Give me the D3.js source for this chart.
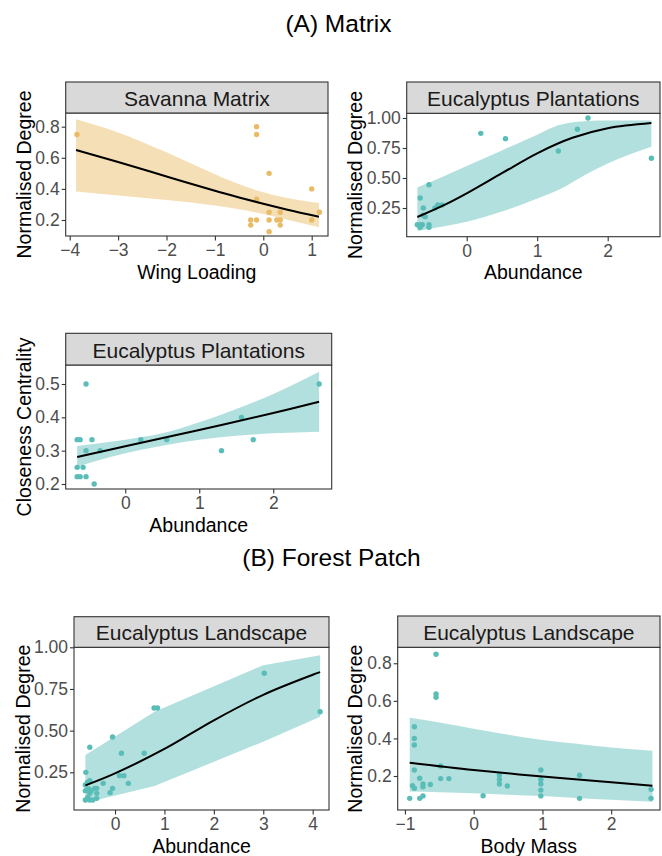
<!DOCTYPE html>
<html>
<head>
<meta charset="utf-8">
<script src="https://cdn.jsdelivr.net/npm/d3@7"></script>
<style>
  html, body { margin: 0; padding: 0; background: #ffffff; }
  svg { display: block; }
  text { font-family: "Liberation Sans", Arial, sans-serif; }
</style>
</head>
<body>
<svg id="fig" width="662" height="856"></svg>
<script>
// ---------- (A) Matrix: Savanna Matrix, degree vs wing loading ----------
const savWing   = [-3.85, -0.14, -0.14, 0.12, 1.00, -0.14, 1.16, 1.00, -0.26, -0.14, -0.26, 0.12, 0.12, 0.12, 0.28, 0.35, 0.35, 0.35];
const savDegree = [0.75, 0.80, 0.75, 0.50, 0.40, 0.333, 0.25, 0.20, 0.20, 0.20, 0.167, 0.25, 0.20, 0.125, 0.20, 0.25, 0.20, 0.167];
const savFitX   = [-3.87, -3, -2, -1, -0.5, 0, 0.5, 1.15];
const savFit    = [0.650, 0.573, 0.480, 0.388, 0.345, 0.304, 0.266, 0.221];
const savBandX  = [-3.87, -3, -2, -1, -0.5, 0, 0.5, 1.15];
const savLo     = [0.383, 0.358, 0.329, 0.293, 0.269, 0.239, 0.202, 0.153];
const savHi     = [0.848, 0.763, 0.635, 0.494, 0.430, 0.378, 0.341, 0.309];

// ---------- (A) Matrix: Eucalyptus Plantations, degree vs abundance ----------
const plAbund  = [0.20, 0.55, 1.30, 1.57, 1.72, 2.62, -0.535, -0.66, -0.615, -0.45, -0.41, -0.35, -0.59, -0.62, -0.70, -0.66, -0.63, -0.535, -0.66, -0.535];
const plDegree = [0.872, 0.828, 0.725, 0.906, 1.00, 0.664, 0.444, 0.333, 0.25, 0.25, 0.275, 0.275, 0.178, 0.19, 0.111, 0.111, 0.111, 0.111, 0.089, 0.089];
const plFitX   = [-0.70, -0.3, 0, 0.5, 1, 1.5, 2, 2.62];
const plFit    = [0.175, 0.28, 0.372, 0.54, 0.706, 0.835, 0.915, 0.958];
const plBandX  = [-0.70, -0.3, 0, 0.5, 1, 1.3, 1.72, 2.0, 2.62];
const plHi     = [0.42, 0.52, 0.60, 0.73, 0.86, 0.94, 0.975, 0.978, 0.98];
const plLo     = [0.058, 0.10, 0.136, 0.22, 0.33, 0.40, 0.54, 0.62, 0.76];

// ---------- (A) Matrix: Eucalyptus Plantations, closeness vs abundance ----------
const ccAbund = [-0.53, 2.62, 1.57, 1.30, 1.73, 0.56, 0.21, -0.65, -0.61, -0.45, -0.53, -0.34, -0.65, -0.57, -0.65, -0.61, -0.53, -0.42];
const ccValue = [0.50, 0.50, 0.40, 0.30, 0.333, 0.333, 0.333, 0.333, 0.333, 0.333, 0.30, 0.30, 0.25, 0.25, 0.222, 0.222, 0.222, 0.20];
const ccFitX  = [-0.65, 0, 1, 2, 2.62];
const ccFit   = [0.281, 0.313, 0.362, 0.413, 0.447];
const ccBandX = [-0.65, 0, 0.5, 1, 1.5, 2, 2.62];
const ccHi    = [0.314, 0.333, 0.352, 0.385, 0.425, 0.47, 0.537];
const ccLo    = [0.252, 0.292, 0.315, 0.333, 0.345, 0.352, 0.357];

// ---------- (B) Forest Patch: Eucalyptus Landscape, degree vs abundance ----------
const flAbund  = [3.02, 4.15, 0.79, 0.86, -0.05, 0.13, 0.59, -0.51, -0.59, 0.09, 0.18, 0.27, -0.24, -0.05, -0.10, -0.56, -0.51, -0.60, -0.41, -0.37, -0.53, -0.48, -0.60, -0.37, -0.51, -0.60, -0.51, -0.45, -0.37, -0.55];
const flDegree = [0.844, 0.613, 0.636, 0.636, 0.462, 0.364, 0.364, 0.40, 0.25, 0.23, 0.23, 0.184, 0.184, 0.154, 0.128, 0.19, 0.20, 0.174, 0.154, 0.154, 0.15, 0.14, 0.14, 0.124, 0.124, 0.084, 0.084, 0.084, 0.094, 0.10];
const flFitX   = [-0.6, 0, 1, 2, 3, 4, 4.15];
const flFit    = [0.172, 0.244, 0.39, 0.562, 0.715, 0.835, 0.851];
const flBandX  = [-0.6, 0.8, 3, 4.15];
const flHi     = [0.354, 0.613, 0.893, 0.953];
const flLo     = [0.068, 0.168, 0.434, 0.583];

// ---------- (B) Forest Patch: Eucalyptus Landscape, degree vs body mass ----------
const bmMass   = [-0.547, -0.547, -0.547, -0.863, -0.863, -0.863, -0.863, -0.48, -0.785, -0.48, -0.36, -0.63, -0.737, -0.737, -0.89, -0.863, -0.93, -0.785, -0.737, 0.137, 0.374, 0.374, 0.374, 0.49, 0.977, 0.977, 0.977, 0.977, 0.977, 1.54, 1.54, 2.58, 2.58];
const bmDegree = [0.848, 0.637, 0.619, 0.462, 0.40, 0.365, 0.232, 0.253, 0.188, 0.186, 0.186, 0.155, 0.157, 0.143, 0.148, 0.135, 0.081, 0.081, 0.094, 0.095, 0.205, 0.182, 0.157, 0.147, 0.232, 0.182, 0.157, 0.125, 0.094, 0.204, 0.081, 0.129, 0.081];
const bmFitX   = [-0.93, 0, 1, 2, 2.6];
const bmFit    = [0.271, 0.232, 0.197, 0.167, 0.148];
const bmBandX  = [-0.93, -0.5, 0, 0.5, 1, 1.5, 2, 2.6];
const bmHi     = [0.51, 0.485, 0.452, 0.42, 0.392, 0.372, 0.352, 0.335];
const bmLo     = [0.117, 0.113, 0.108, 0.10, 0.093, 0.083, 0.073, 0.063];

// ---------- tick values and labels ----------
const savXTicks = [-4, -3, -2, -1, 0, 1];
const savYTicks = [0.2, 0.4, 0.6, 0.8];
const plXTicks  = [0, 1, 2];
const plYTicks  = [0.25, 0.50, 0.75, 1.00];
const ccXTicks  = [0, 1, 2];
const ccYTicks  = [0.2, 0.3, 0.4, 0.5];
const flXTicks  = [0, 1, 2, 3, 4];
const flYTicks  = [0.25, 0.50, 0.75, 1.00];
const bmXTicks  = [-1, 0, 1, 2];
const bmYTicks  = [0.2, 0.4, 0.6, 0.8];

const sectionTitles = ["(A) Matrix", "(B) Forest Patch"];

// ---------- colours ----------
const savannaCol = "#e9bb66";
const eucCol = "#5bbdb8";

// ---------- panel definitions ----------
const panels = [
  { strip: "Savanna Matrix", xTitle: "Wing Loading", yTitle: "Normalised Degree",
    x: savWing, y: savDegree, fitX: savFitX, fit: savFit, bandX: savBandX, lo: savLo, hi: savHi,
    xTicks: savXTicks, yTicks: savYTicks, yFmt: d3.format(".1f"), xFmt: d3.format("d"),
    xDomain: [-4.083, 1.337], yDomain: [0.097, 0.888], col: savannaCol, bandCurve: d3.curveMonotoneX,
    box: { left: 65.7, right: 328, top: 113, bottom: 236, stripTop: 82, yTitleX: 30.5 } },
  { strip: "Eucalyptus Plantations", xTitle: "Abundance", yTitle: "Normalised Degree",
    x: plAbund, y: plDegree, fitX: plFitX, fit: plFit, bandX: plBandX, lo: plLo, hi: plHi,
    xTicks: plXTicks, yTicks: plYTicks, yFmt: d3.format(".2f"), xFmt: d3.format("d"),
    xDomain: [-0.851, 2.742], yDomain: [0.011, 1.039], col: eucCol, bandCurve: d3.curveMonotoneX,
    box: { left: 406.7, right: 660, top: 113.3, bottom: 236.7, stripTop: 82, yTitleX: 362 } },
  { strip: "Eucalyptus Plantations", xTitle: "Abundance", yTitle: "Closeness Centrality",
    x: ccAbund, y: ccValue, fitX: ccFitX, fit: ccFit, bandX: ccBandX, lo: ccLo, hi: ccHi,
    xTicks: ccXTicks, yTicks: ccYTicks, yFmt: d3.format(".1f"), xFmt: d3.format("d"),
    xDomain: [-0.805, 2.79], yDomain: [0.185, 0.557], col: eucCol, bandCurve: d3.curveMonotoneX,
    box: { left: 65.7, right: 331.7, top: 365, bottom: 489, stripTop: 333.3, yTitleX: 30.5 } },
  { strip: "Eucalyptus Landscape", xTitle: "Abundance", yTitle: "Normalised Degree",
    x: flAbund, y: flDegree, fitX: flFitX, fit: flFit, bandX: flBandX, lo: flLo, hi: flHi,
    xTicks: flXTicks, yTicks: flYTicks, yFmt: d3.format(".2f"), xFmt: d3.format("d"),
    xDomain: [-0.83, 4.33], yDomain: [0.024, 1.0], col: eucCol, bandCurve: d3.curveLinear,
    box: { left: 74, right: 329, top: 647.3, bottom: 810, stripTop: 616.7, yTitleX: 29.5 } },
  { strip: "Eucalyptus Landscape", xTitle: "Body Mass", yTitle: "Normalised Degree",
    x: bmMass, y: bmDegree, fitX: bmFitX, fit: bmFit, bandX: bmBandX, lo: bmLo, hi: bmHi,
    xTicks: bmXTicks, yTicks: bmYTicks, yFmt: d3.format(".1f"), xFmt: d3.format("d"),
    xDomain: [-1.105, 2.71], yDomain: [0.019, 0.885], col: eucCol, bandCurve: d3.curveMonotoneX,
    box: { left: 397.7, right: 660, top: 647.3, bottom: 810, stripTop: 616, yTitleX: 362 } }
];

const svg = d3.select("#fig");
const borderCol = "#333333";
const tickTextCol = "#4d4d4d";
const tickFont = 17.5;
const titleFont = 19.5;
const stripFont = 21;

// section headings
svg.append("text").attr("x", 338.5).attr("y", 32).attr("text-anchor", "middle")
  .attr("font-size", 24.5).attr("fill", "#000").text(sectionTitles[0]);
svg.append("text").attr("x", 331.5).attr("y", 566).attr("text-anchor", "middle")
  .attr("font-size", 24.5).attr("fill", "#000").text(sectionTitles[1]);

panels.forEach(p => {
  const b = p.box;
  const xs = d3.scaleLinear().domain(p.xDomain).range([b.left, b.right]);
  const ys = d3.scaleLinear().domain(p.yDomain).range([b.bottom, b.top]);
  const g = svg.append("g");

  const clipId = "clip" + Math.round(b.left) + "_" + Math.round(b.top);
  svg.append("clipPath").attr("id", clipId).append("rect")
    .attr("x", b.left).attr("y", b.top).attr("width", b.right - b.left).attr("height", b.bottom - b.top);
  const plot = g.append("g").attr("clip-path", `url(#${clipId})`);

  // observed points
  plot.selectAll("circle").data(p.x.map((v, i) => [v, p.y[i]])).join("circle")
    .attr("cx", d => xs(d[0])).attr("cy", d => ys(d[1])).attr("r", 2.7)
    .attr("fill", p.col);

  // confidence band
  const band = p.bandX.map((v, i) => [v, p.lo[i], p.hi[i]]);
  plot.append("path").datum(band)
    .attr("d", d3.area().x(d => xs(d[0])).y0(d => ys(d[1])).y1(d => ys(d[2])).curve(p.bandCurve))
    .attr("fill", p.col).attr("fill-opacity", 0.47);

  // fitted curve
  const fitPts = p.fitX.map((v, i) => [v, p.fit[i]]);
  plot.append("path").datum(fitPts)
    .attr("d", d3.line().x(d => xs(d[0])).y(d => ys(d[1])).curve(d3.curveCatmullRom))
    .attr("fill", "none").attr("stroke", "#000").attr("stroke-width", 2);

  // axes
  const xAxis = g.append("g").attr("transform", `translate(0,${b.bottom})`)
    .call(d3.axisBottom(xs).tickValues(p.xTicks).tickFormat(p.xFmt).tickSize(4.5).tickPadding(3.5).tickSizeOuter(0));
  const yAxis = g.append("g").attr("transform", `translate(${b.left},0)`)
    .call(d3.axisLeft(ys).tickValues(p.yTicks).tickFormat(p.yFmt).tickSize(4).tickPadding(2).tickSizeOuter(0));
  [xAxis, yAxis].forEach(a => {
    a.select(".domain").remove();
    a.selectAll(".tick line").attr("stroke", borderCol).attr("stroke-width", 1.1);
    a.selectAll(".tick text").attr("fill", tickTextCol).attr("font-size", tickFont)
      .attr("font-family", "'Liberation Sans', Arial, sans-serif");
  });

  // panel border
  g.append("rect").attr("x", b.left).attr("y", b.top)
    .attr("width", b.right - b.left).attr("height", b.bottom - b.top)
    .attr("fill", "none").attr("stroke", borderCol).attr("stroke-width", 1.1);

  // facet strip
  g.append("rect").attr("x", b.left).attr("y", b.stripTop)
    .attr("width", b.right - b.left).attr("height", b.top - b.stripTop)
    .attr("fill", "#d9d9d9").attr("stroke", borderCol).attr("stroke-width", 1.1);
  g.append("text").attr("x", (b.left + b.right) / 2).attr("y", (b.stripTop + b.top) / 2 + 8.4)
    .attr("text-anchor", "middle").attr("font-size", stripFont).attr("fill", "#1a1a1a").text(p.strip);

  // axis titles
  g.append("text").attr("x", (b.left + b.right) / 2).attr("y", b.bottom + 42.5)
    .attr("text-anchor", "middle").attr("font-size", titleFont).attr("fill", "#000").text(p.xTitle);
  g.append("text").attr("transform", `translate(${b.yTitleX},${(b.top + b.bottom) / 2}) rotate(-90)`)
    .attr("text-anchor", "middle").attr("font-size", titleFont).attr("fill", "#000").text(p.yTitle);
});
</script>
</body>
</html>
